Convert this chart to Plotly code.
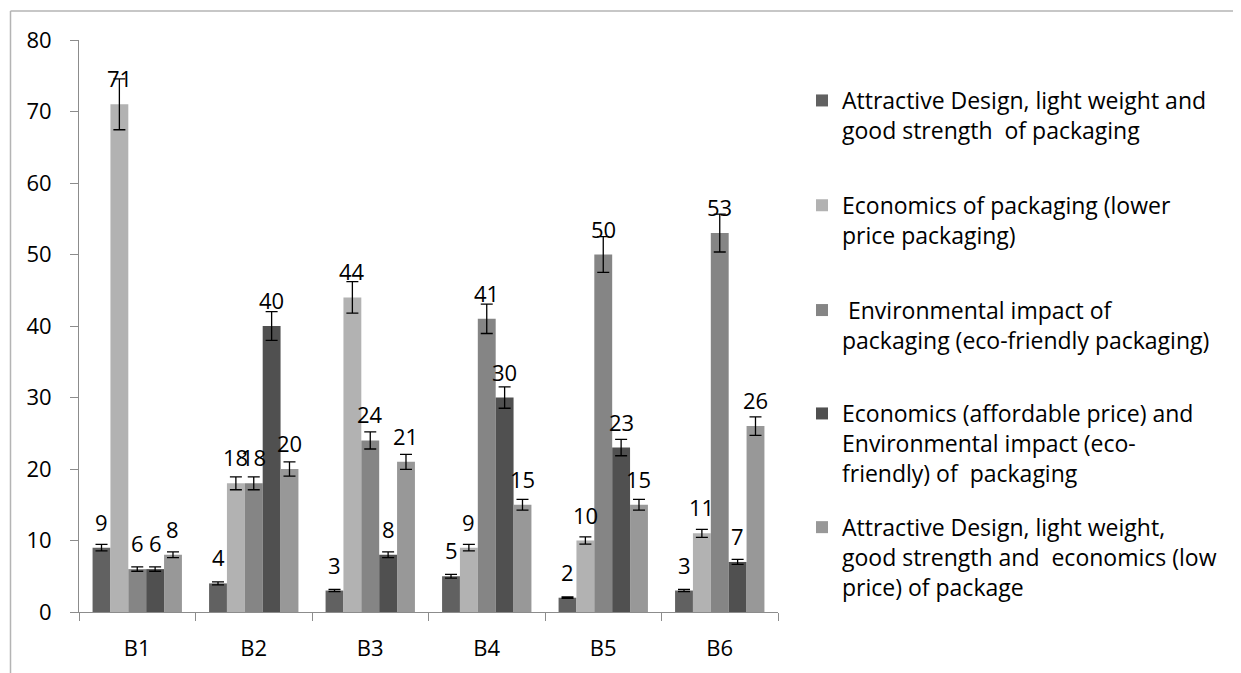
import plotly.graph_objects as go

categories = ["B1", "B2", "B3", "B4", "B5", "B6"]

series_names = [
    "Attractive Design, light weight and<br>good strength \u00a0of packaging",
    "Economics of packaging (lower<br>price packaging)",
    "\u00a0Environmental impact of<br>packaging (eco-friendly packaging)",
    "Economics (affordable price) and<br>Environmental impact (eco-<br>friendly) of \u00a0packaging",
    "Attractive Design, light weight,<br>good strength and \u00a0economics (low<br>price) of package",
]

design_strength = [9, 4, 3, 5, 2, 3]
economics_packaging = [71, 18, 44, 9, 10, 11]
environmental_impact = [6, 18, 24, 41, 50, 53]
economics_environment = [6, 40, 8, 30, 23, 7]
design_economics = [8, 20, 21, 15, 15, 26]

series_values = [design_strength, economics_packaging, environmental_impact,
                 economics_environment, design_economics]
colors = ["#616161", "#b2b2b2", "#858585", "#505050", "#989898"]
legend_ids = ["legend", "legend", "legend", "legend2", "legend2"]

# figure is drawn inside the page's 8px body margin
W, H = 1233, 665
ML, MR, MT, MB = 71, 463, 32, 61
plot_w = W - ML - MR
plot_h = H - MT - MB
bargap = 0.233
FONT = "Open Sans"

fig = go.Figure()
for i, (name, vals, col, lg) in enumerate(zip(series_names, series_values, colors, legend_ids)):
    fig.add_trace(go.Bar(
        x=categories, y=vals, name=name, marker_color=col,
        marker_line_width=0, legendgroup=f"g{i}", legend=lg,
        error_y=dict(type="percent", value=5, color="black", thickness=1.3, width=6),
    ))

# data labels above each bar
bw = plot_w / len(categories) * (1 - bargap) / len(series_values)
annotations = []
for i, vals in enumerate(series_values):
    for c, v in zip(categories, vals):
        annotations.append(dict(
            x=c, y=v, xref="x", yref="y", text=str(v), showarrow=False,
            xshift=(i - (len(series_values) - 1) / 2) * bw, yshift=26,
            yanchor="middle", font=dict(family=FONT, size=22, color="black"),
        ))


def px_to_paper_x(px):
    return (px - ML) / plot_w


def px_to_paper_y(py):
    return (H - MB - py) / plot_h


shapes = [
    dict(type="line", xref="paper", yref="paper",
         x0=px_to_paper_x(2.5), x1=px_to_paper_x(2.5),
         y0=px_to_paper_y(H), y1=px_to_paper_y(3),
         line=dict(color="#b4b4b4", width=1.5)),
    dict(type="line", xref="paper", yref="paper",
         x0=px_to_paper_x(2.5), x1=px_to_paper_x(W),
         y0=px_to_paper_y(3), y1=px_to_paper_y(3),
         line=dict(color="#b4b4b4", width=1.5)),
]

legend_common = dict(
    x=px_to_paper_x(794), xanchor="left", yanchor="top",
    font=dict(family=FONT, size=23, color="black"),
    valign="top", traceorder="grouped",
    bgcolor="rgba(0,0,0,0)", borderwidth=0,
)

fig.update_layout(
    width=W, height=H,
    margin=dict(l=ML, r=MR, t=MT, b=MB, autoexpand=False),
    paper_bgcolor="white", plot_bgcolor="white",
    barmode="group", bargap=bargap, bargroupgap=0,
    font=dict(family=FONT, size=22, color="black"),
    showlegend=True,
    legend=dict(legend_common, y=px_to_paper_y(71), tracegroupgap=42),
    legend2=dict(legend_common, y=px_to_paper_y(384), tracegroupgap=21),
    annotations=annotations,
    shapes=shapes,
)

fig.update_yaxes(
    range=[0, 80], dtick=10, showgrid=False, zeroline=False,
    showline=True, linecolor="#8c8c8c", linewidth=1,
    ticks="outside", ticklen=8, tickcolor="#8c8c8c",
    ticklabelstandoff=14, tickfont=dict(family=FONT, size=22),
)
fig.update_xaxes(
    showgrid=False, showline=True, linecolor="#8c8c8c", linewidth=1,
    ticks="outside", ticklen=8, tickcolor="#8c8c8c", tickson="boundaries",
    ticklabelstandoff=17, tickfont=dict(family=FONT, size=22),
)

fig.write_html("out.html")
